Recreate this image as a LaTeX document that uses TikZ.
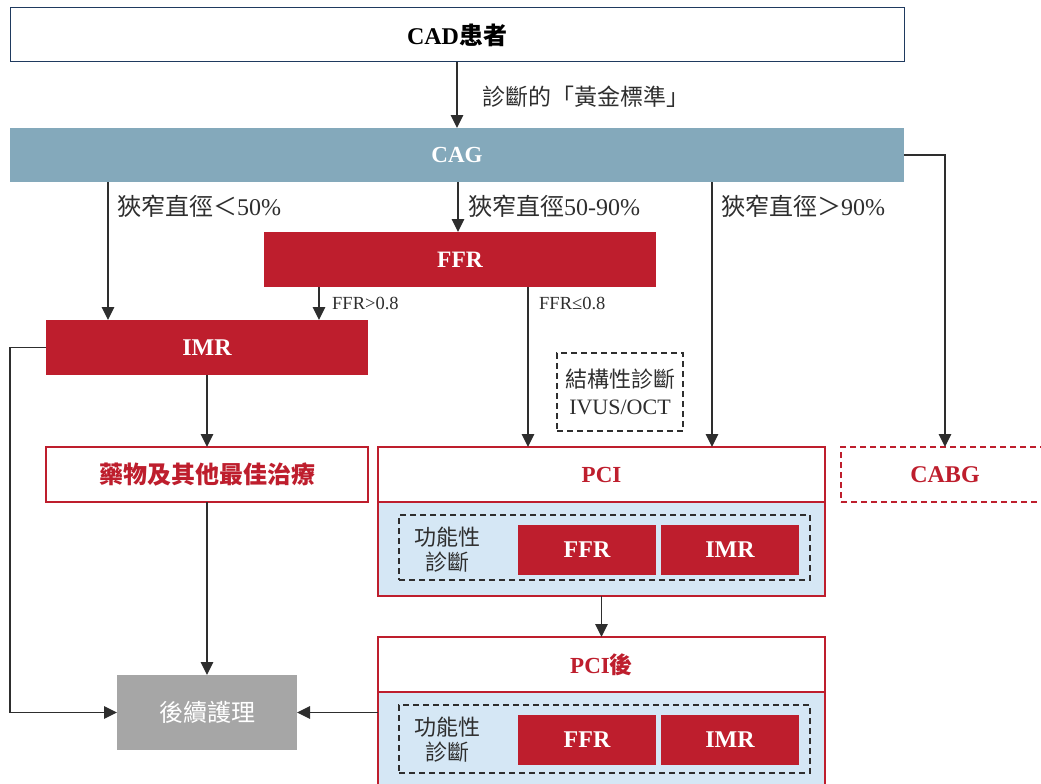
\documentclass[tikz,border=0pt]{standalone}
\usepackage{fontspec}
\setmainfont{Liberation Serif}
\newfontfamily\cjk{Noto Sans CJK TC}
\usetikzlibrary{arrows.meta}
\definecolor{myred}{HTML}{BE1E2D}
\definecolor{cagblue}{HTML}{84A9BB}
\definecolor{lightblue}{HTML}{D5E7F5}
\definecolor{caregray}{HTML}{A6A6A6}
\definecolor{linegray}{HTML}{2E2E2E}
\definecolor{navy}{HTML}{1F3A5F}
\tikzset{
  box/.style={rectangle, inner sep=0pt, outer sep=0pt, align=center},
  redbox/.style={box, fill=myred, text=white, font=\fontsize{24}{26}\selectfont\bfseries},
  whitered/.style={box, fill=white, draw=myred, line width=1.2pt},
  dashbox/.style={box, draw=linegray, dash pattern=on 6pt off 4pt, line width=1.1pt},
  conn/.style={draw=linegray, line width=1.3pt},
  arr/.style={conn, -{Triangle[length=13pt,width=12.5pt]}},
  lbl/.style={inner sep=0pt, anchor=west, text=linegray},
}
\begin{document}
\begin{tikzpicture}[x=1pt,y=-1pt]
\useasboundingbox (0,0) rectangle (1041,784);
\clip (0,0) rectangle (1041,784);
% top
\node[box, draw=navy, line width=1pt, fill=white, minimum width=894pt, minimum height=54pt, font=\fontsize{24}{26}\selectfont\bfseries] (cad) at (457,35) {CAD{\cjk 患者}};
\node[box, fill=cagblue, text=white, minimum width=894pt, minimum height=54pt, font=\fontsize{23}{26}\selectfont\bfseries] (cag) at (457,155) {CAG};
\node[redbox, minimum width=392pt, minimum height=55pt, font=\fontsize{23.5}{26}\selectfont\bfseries] (ffr) at (460,259.5) {FFR};
\node[redbox, minimum width=322pt, minimum height=55pt] (imr) at (207,347.5) {IMR};
\node[whitered, minimum width=322pt, minimum height=55pt, text=myred, font=\fontsize{24}{26}\selectfont\cjk\bfseries] (drug) at (207,474.5) {藥物及其他最佳治療};
\node[box, fill=caregray, text=white, minimum width=180pt, minimum height=75pt, font=\fontsize{24}{26}\selectfont\cjk] (care) at (207,712.5) {後續護理};
% structural
\node[dashbox, minimum width=126pt, minimum height=78pt, text=linegray, font=\fontsize{22}{27}\selectfont] (struct) at (620,392) {{\cjk 結構性診斷}\\IVUS/OCT};
% PCI
\node[whitered, minimum width=447pt, minimum height=94pt, fill=lightblue] (pcib) at (601.5,549) {};
\node[whitered, minimum width=447pt, minimum height=55pt, text=myred, font=\fontsize{23}{26}\selectfont\bfseries] (pci) at (601.5,474.5) {PCI};
\node[dashbox, minimum width=411pt, minimum height=65pt] (pcid) at (604.5,547.5) {};
\node[box, text=linegray, font=\fontsize{22}{25}\selectfont\cjk] (func1) at (447,550) {功能性\\診斷};
\node[redbox, minimum width=138pt, minimum height=50pt] (ffr1) at (587,550) {FFR};
\node[redbox, minimum width=138pt, minimum height=50pt] (imr1) at (730,550) {IMR};
% post PCI
\node[whitered, minimum width=447pt, minimum height=100pt, fill=lightblue] (postb) at (601.5,742) {};
\node[whitered, minimum width=447pt, minimum height=55pt, text=myred, font=\fontsize{23}{26}\selectfont\bfseries] (post) at (601.5,664.5) {PCI{\cjk 後}};
\node[dashbox, minimum width=411pt, minimum height=68pt] (postd) at (604.5,739) {};
\node[box, text=linegray, font=\fontsize{22}{25}\selectfont\cjk] (func2) at (447,740) {功能性\\診斷};
\node[redbox, minimum width=138pt, minimum height=50pt] (ffr2) at (587,740) {FFR};
\node[redbox, minimum width=138pt, minimum height=50pt] (imr2) at (730,740) {IMR};
% CABG (right edge runs off the picture)
\node[box, draw=myred, dash pattern=on 6pt off 4pt, line width=1.2pt, fill=white, minimum width=240pt, minimum height=55pt, text=myred, font=\fontsize{24}{26}\selectfont\bfseries] (cabg) at (961,474.5) {\hspace*{-32pt}CABG};
% connectors
\draw[arr] (cad.south -| cag.north) -- (cag.north);
\node[lbl, font=\fontsize{23}{26}\selectfont\cjk] (l0) at (482,97) {診斷的「黃金標準」};
\draw[arr] (cag.east) -| (cabg.north -| 945,0);
\draw[arr] ([xshift=-99pt]imr.north |- cag.south) -- ([xshift=-99pt]imr.north);
\draw[arr] (458,0 |- cag.south) -- (458,0 |- ffr.north);
\draw[arr] (712,0 |- cag.south) -- (712,0 |- pci.north);
\node[lbl, font=\fontsize{24}{26}\selectfont] (l1) at (117,206) {{\cjk 狹窄直徑＜}50\%};
\node[lbl, font=\fontsize{24}{26}\selectfont] (l2) at (468,206) {{\cjk 狹窄直徑}50-90\%};
\node[lbl, font=\fontsize{24}{26}\selectfont] (l3) at (721,206) {{\cjk 狹窄直徑＞}90\%};
\draw[arr] (319,0 |- ffr.south) -- (319,0 |- imr.north);
\draw[arr] (528,0 |- ffr.south) -- (528,0 |- pci.north);
\node[lbl, font=\fontsize{18.5}{20}\selectfont] (l4) at (332,303) {FFR>0.8};
\node[lbl, font=\fontsize{18.5}{20}\selectfont] (l5) at (539,303) {FFR≤0.8};
\draw[arr] (imr.west) -- (10,0 |- imr.west) |- (care.west);
\draw[arr] (imr.south) -- (drug.north);
\draw[arr] (drug.south) -- (care.north);
\draw[arr] (pcib.south) -- (post.north);
\draw[arr] (care.east -| postb.west) -- (care.east);
\end{tikzpicture}
\end{document}
